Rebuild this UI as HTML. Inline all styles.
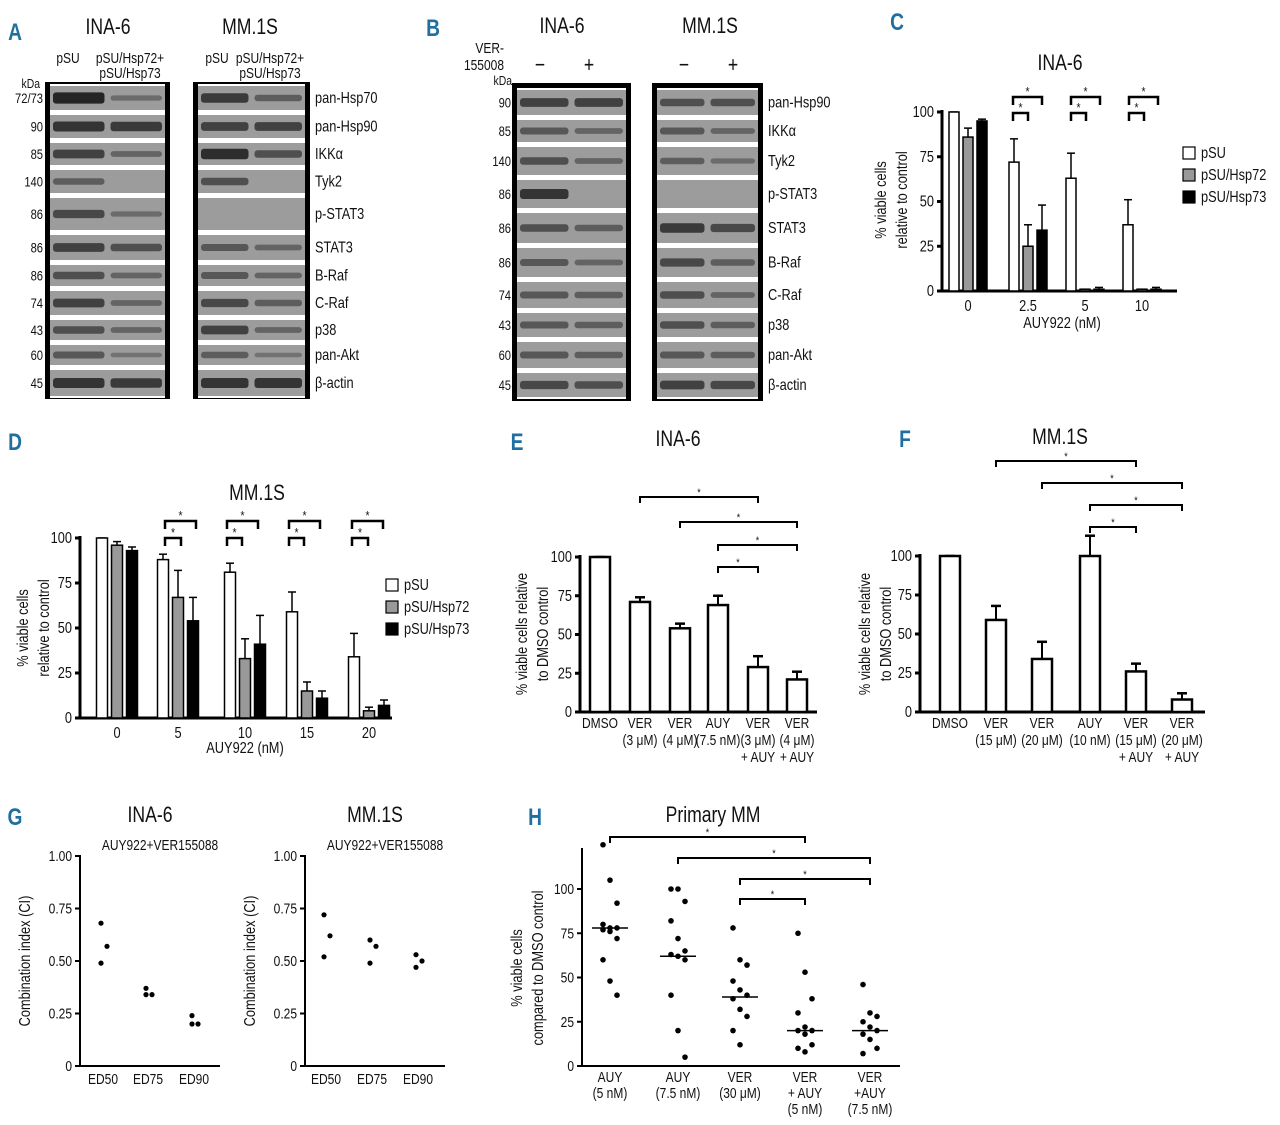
<!DOCTYPE html>
<html><head><meta charset="utf-8"><style>
html,body{margin:0;padding:0;background:#fff;width:1280px;height:1125px;overflow:hidden}
svg{display:block;font-family:"Liberation Sans",sans-serif}
</style></head><body>
<svg id="fig" width="1280" height="1125" viewBox="0 0 1280 1125" xmlns="http://www.w3.org/2000/svg"></svg>
<script>
// ---------- DATA ----------
const cGroups=["0","2.5","5","10"];
const cPSU=[100,72,63,37], cH72=[86,25,1,1], cH73=[95,34,1,1];
const cErrPSU=[100,85,77,51], cErrH72=[91,37,1,1], cErrH73=[96,48,2,2];
const dGroups=["0","5","10","15","20"];
const dPSU=[100,88,81,59,34], dH72=[96,67,33,15,4], dH73=[93,54,41,11,7];
const dErrPSU=[100,91,86,70,47], dErrH72=[98,82,44,20,6], dErrH73=[95,67,57,15,10];
const eLabels=[["DMSO"],["VER","(3 μM)"],["VER","(4 μM)"],["AUY","(7.5 nM)"],["VER","(3 μM)","+ AUY"],["VER","(4 μM)","+ AUY"]];
const eValues=[100,71,54,69,29,21], eErr=[100,74,57,75,36,26];
const fLabels=[["DMSO"],["VER","(15 μM)"],["VER","(20 μM)"],["AUY","(10 nM)"],["VER","(15 μM)","+ AUY"],["VER","(20 μM)","+ AUY"]];
const fValues=[100,59,34,100,26,8], fErr=[100,68,45,113,31,12];
const gCats=["ED50","ED75","ED90"];
const gIna=[[0.68,0.57,0.49],[0.37,0.34,0.34],[0.24,0.20,0.20]];
const gMm=[[0.72,0.62,0.52],[0.60,0.57,0.49],[0.53,0.50,0.47]];
const gTicks=["0","0.25","0.50","0.75","1.00"];
const hLabels=[["AUY","(5 nM)"],["AUY","(7.5 nM)"],["VER","(30 μM)"],["VER","+ AUY","(5 nM)"],["VER","+AUY","(7.5 nM)"]];
const hPts=[[125,105,92,80,78,78,77,76,72,60,48,40],[100,100,93,82,72,65,63,62,60,40,20,5],[78,60,57,48,43,40,38,32,28,20,12],[75,53,38,30,22,20,20,18,12,10,8],[46,30,28,25,22,20,18,15,10,7]];
const hMedian=[78,62,39,20,20];
const pctTicks=[0,25,50,75,100];

// ---------- HELPERS ----------
const S=document.getElementById('fig');
const NS="http://www.w3.org/2000/svg";
function mk(tag,at,name,par){const el=document.createElementNS(NS,tag);for(const k in at)el.setAttribute(k,at[k]);


(par||S).appendChild(el);return el;}
function tx(x,y,s,sz,anc,name,extra,rot){
  const tr=`translate(${x},${y})`+(rot?` rotate(${rot})`:'')+' scale(0.8,1)';
  const t=mk('text',Object.assign({x:0,y:0,transform:tr,'font-size':sz||14,'text-anchor':anc||'middle',fill:'#111'},extra||{}),name);t.textContent=s;return t;}
function ln(x1,y1,x2,y2,w,name){return mk('line',{x1:x1,y1:y1,x2:x2,y2:y2,stroke:'#000','stroke-width':w||2},name);}
function plabel(x,y,s){tx(x,y,s,24,'middle','panel-label-'+s.toLowerCase(),{fill:'#1f6fa0','font-weight':'bold'});}

// ---------- BLOTS ----------
function blot(x,y,w,h,rows,lanes,name){
  mk('rect',{x:x,y:y,width:w,height:h,fill:'#000'},name+'-frame');
  const ix=x+5,iw=w-10;
  mk('rect',{x:ix,y:rows[0][0]-2,width:iw,height:rows[rows.length-1][1]-rows[0][0]+4,fill:'#fff'},name+'-bg');
  rows.forEach((r,i)=>{
    mk('rect',{x:ix,y:r[0],width:iw,height:r[1]-r[0],fill:'#9c9c9c'},name+'-strip-'+i);
    const mid=(r[0]+r[1])/2;
    lanes[i].forEach((v,j)=>{if(v<=0)return;
      const lw=iw/2-6;const lx=ix+3+j*(iw/2);
      mk('rect',{x:lx,y:mid-2-v*3,width:lw,height:4+v*6,rx:3,fill:'#111','fill-opacity':Math.min(1,0.25+v*0.5)},name+'-band-'+i+'-'+j);});
  });
}
// Panel A
plabel(15,40,'A');
tx(108,34,'INA-6',22,'middle','a-title-ina6');tx(250,34,'MM.1S',22,'middle','a-title-mm1s');
tx(68,63,'pSU',15,'middle','a-lane-psu');tx(130,63,'pSU/Hsp72+',15,'middle','a-lane-hsp');tx(130,78,'pSU/Hsp73',15,'middle','a-lane-hsp73');
tx(217,63,'pSU',15,'middle','a-lane-psu2');tx(270,63,'pSU/Hsp72+',15,'middle','a-lane-hsp2');tx(270,78,'pSU/Hsp73',15,'middle','a-lane-hsp73b');
const aRows=[[86,110],[115,138],[143,165],[170,193],[198,230],[235,260],[265,286],[291,315],[320,340],[345,365],[370,396]];
blot(45,82,125,317,aRows,[[1.2,0.2],[1,0.9],[0.8,0.3],[0.4,0],[0.7,0.2],[0.8,0.6],[0.6,0.3],[0.8,0.3],[0.6,0.3],[0.5,0.1],[1,0.9]],'a-blot-ina6');
blot(193,82,117,317,aRows,[[0.9,0.4],[0.8,0.8],[1.1,0.6],[0.6,0],[0,0],[0.5,0.3],[0.5,0.3],[0.7,0.4],[0.8,0.3],[0.4,0.1],[1,1]],'a-blot-mm1s');
tx(40,88,'kDa',13,'end','a-kda');
const aKda=['72/73','90','85','140','86','86','86','74','43','60','45'];
const aAb=['pan-Hsp70','pan-Hsp90','IKKα','Tyk2','p-STAT3','STAT3','B-Raf','C-Raf','p38','pan-Akt','β-actin'];
aRows.forEach((r,i)=>{const m=(r[0]+r[1])/2+5;tx(43,m,aKda[i],14,'end','a-kda-'+i);tx(315,m,aAb[i],16,'start','a-antibody-'+i);});
// Panel B
plabel(433,36,'B');
tx(562,33,'INA-6',22,'middle','b-title-ina6');tx(710,33,'MM.1S',22,'middle','b-title-mm1s');
tx(504,53,'VER-',15,'end','b-ver');tx(504,70,'155008',15,'end','b-ver2');tx(512,85,'kDa',13,'end','b-kda');
tx(540,72,'−',22,'middle','b-minus1');tx(589,72,'+',22,'middle','b-plus1');tx(684,72,'−',22,'middle','b-minus2');tx(733,72,'+',22,'middle','b-plus2');
const bRows=[[90,115],[120,142],[147,175],[180,208],[213,243],[248,277],[282,308],[313,337],[342,368],[373,397]];
blot(512,83,119,318,bRows,[[0.8,0.8],[0.5,0.3],[0.6,0.3],[1,0],[0.6,0.4],[0.5,0.3],[0.5,0.4],[0.5,0.4],[0.5,0.4],[0.7,0.6]],'b-blot-ina6');
blot(652,83,111,318,bRows,[[0.6,0.6],[0.5,0.3],[0.4,0.2],[0,0],[0.9,0.7],[0.7,0.4],[0.6,0.3],[0.6,0.4],[0.5,0.4],[0.8,0.7]],'b-blot-mm1s');
const bKda=['90','85','140','86','86','86','74','43','60','45'];
const bAb=['pan-Hsp90','IKKα','Tyk2','p-STAT3','STAT3','B-Raf','C-Raf','p38','pan-Akt','β-actin'];
bRows.forEach((r,i)=>{const m=(r[0]+r[1])/2+5;tx(511,m,bKda[i],14,'end','b-kda-'+i);tx(768,m,bAb[i],16,'start','b-antibody-'+i);});

// ---------- GROUPED BAR CHARTS ----------
function yAxis(pre,ax,y0,y100,xl,ticks,vmax){
  ln(ax,y100-2,ax,y0+1.5,3,pre+'-y-axis');
  ticks.forEach((t,i)=>{const y=y0-(t/vmax)*(y0-y100);ln(ax-5,y,ax,y,3,pre+'-y-tick-'+i);tx(ax-8,y+5,String(t),16,'end',pre+'-y-label-'+i);});
}
function grouped(pre,ax,axEnd,y0,y100,centers,bw,series,errs,fills,groups){
  const ys=v=>y0-v/100*(y0-y100);
  yAxis(pre,ax,y0,y100,0,pctTicks,100);
  ln(ax,y0,axEnd,y0,3,pre+'-x-axis');
  centers.forEach((c,g)=>{
    tx(c,y0+20,groups[g],16,'middle',pre+'-x-label-'+g);
    series.forEach((s,k)=>{const x=c+(k-1)*(bw+4)-bw/2;
      ln(x+bw/2,ys(errs[k][g]),x+bw/2,ys(s[g]),1.5,pre+'-error-'+k+'-'+g);
      ln(x+bw/2-4,ys(errs[k][g]),x+bw/2+4,ys(errs[k][g]),1.5,pre+'-error-cap-'+k+'-'+g);
      mk('rect',{x:x,y:ys(s[g]),width:bw,height:Math.max(1.5,y0-ys(s[g])),fill:fills[k],stroke:'#000','stroke-width':1.5},pre+'-bar-'+k+'-'+g);});
  });
}
function legend(pre,x,y,gap){[['pSU','#fff'],['pSU/Hsp72','#999'],['pSU/Hsp73','#000']].forEach((l,i)=>{
  mk('rect',{x:x,y:y+i*gap-11,width:12,height:12,fill:l[1],stroke:'#000','stroke-width':1.2},pre+'-legend-swatch-'+i);
  tx(x+18,y+i*gap,l[0],16,'start',pre+'-legend-label-'+i);});}
function bracket(pre,x1,x2,y,i){mk('path',{d:`M${x1} ${y+8}V${y}H${x2}V${y+8}`,fill:'none',stroke:'#000','stroke-width':2.5},pre+'-sig-bracket-'+i);tx((x1+x2)/2,y-1,'*',13,'middle',pre+'-sig-star-'+i);}

// Panel C
plabel(897,30,'C');
tx(1060,70,'INA-6',22,'middle','c-title');
const cCent=[968,1028,1085,1142];
grouped('c',942,1177,291,112,cCent,10,[cPSU,cH72,cH73],[cErrPSU,cErrH72,cErrH73],['#fff','#999','#000'],cGroups);
tx(1062,328,'AUY922 (nM)',16,'middle','c-x-title');
tx(886,200,'% viable cells',16,'middle','c-y-title',{},-90);
tx(907,200,'relative to control',16,'middle','c-y-title2',{},-90);
legend('c',1183,158,22);
[[1013,1042,97],[1013,1028,113],[1071,1100,97],[1071,1086,113],[1129,1158,97],[1129,1144,113]].forEach((b,i)=>bracket('c',b[0],b[1],b[2],i));

// Panel D
plabel(15,450,'D');
tx(257,500,'MM.1S',22,'middle','d-title');
const dCent=[117,178,245,307,369];
grouped('d',80,392,718,538,dCent,11,[dPSU,dH72,dH73],[dErrPSU,dErrH72,dErrH73],['#fff','#999','#000'],dGroups);
tx(245,753,'AUY922 (nM)',16,'middle','d-x-title');
tx(28,628,'% viable cells',16,'middle','d-y-title',{},-90);
tx(49,628,'relative to control',16,'middle','d-y-title2',{},-90);
legend('d',386,590,22);
[[165,196,521],[165,181,538],[227,258,521],[227,242,538],[289,320,521],[289,304,538],[352,383,521],[352,368,538]].forEach((b,i)=>bracket('d',b[0],b[1],b[2],i));

// Panels E / F
function single(pre,ax,axEnd,y0,y100,centers,bw,vals,errs,labels){
  const ys=v=>y0-v/100*(y0-y100);
  yAxis(pre,ax,y0,y100,0,pctTicks,100);
  ln(ax,y0,axEnd,y0,3,pre+'-x-axis');
  centers.forEach((c,g)=>{
    ln(c,ys(errs[g]),c,ys(vals[g]),2,pre+'-error-'+g);
    ln(c-5,ys(errs[g]),c+5,ys(errs[g]),2.5,pre+'-error-cap-'+g);
    mk('rect',{x:c-bw/2,y:ys(vals[g]),width:bw,height:y0-ys(vals[g]),fill:'#fff',stroke:'#000','stroke-width':2.5},pre+'-bar-'+g);
    labels[g].forEach((s,k)=>tx(c,y0+16+k*17,s,15,'middle',pre+'-x-label-'+g+'-'+k));
  });
}
function sig(pre,x1,x2,y,i){mk('path',{d:`M${x1} ${y+6}V${y}H${x2}V${y+6}`,fill:'none',stroke:'#000','stroke-width':2},pre+'-sig-bracket-'+i);tx((x1+x2)/2,y-1,'*',11,'middle',pre+'-sig-star-'+i);}
plabel(517,450,'E');
tx(678,446,'INA-6',22,'middle','e-title');
single('e',580,817,712,557,[600,640,680,718,758,797],20,eValues,eErr,eLabels);
tx(527,634,'% viable cells relative',16,'middle','e-y-title',{},-90);
tx(548,634,'to DMSO control',16,'middle','e-y-title2',{},-90);
[[640,758,497],[680,797,522],[718,797,545],[718,758,567]].forEach((b,i)=>sig('e',b[0],b[1],b[2],i));

plabel(905,447,'F');
tx(1060,444,'MM.1S',22,'middle','f-title');
single('f',920,1205,712,556,[950,996,1042,1090,1136,1182],20,fValues,fErr,fLabels);
tx(870,634,'% viable cells relative',16,'middle','f-y-title',{},-90);
tx(891,634,'to DMSO control',16,'middle','f-y-title2',{},-90);
[[996,1136,461],[1042,1182,483],[1090,1182,505],[1090,1136,527]].forEach((b,i)=>sig('f',b[0],b[1],b[2],i));

// Panel G
plabel(15,825,'G');
function gPlot(pre,ax,xs,data,title){
  const y0=1066,y1=856,ys=v=>y0-v*(y0-y1);
  tx(ax+70,822,title,22,'middle',pre+'-title');
  tx(ax+80,850,'AUY922+VER155088',15,'middle',pre+'-subtitle');
  ln(ax,y1-1,ax,y0,2,pre+'-y-axis');ln(ax,y0,ax+140,y0,2,pre+'-x-axis');
  gTicks.forEach((t,i)=>{const y=ys(parseFloat(t));ln(ax-5,y,ax,y,2,pre+'-y-tick-'+i);tx(ax-8,y+5,t,15,'end',pre+'-y-label-'+i);});
  xs.forEach((x,g)=>{tx(x,1084,gCats[g],15,'middle',pre+'-x-label-'+g);
    data[g].forEach((v,k)=>mk('circle',{cx:x+(k===1?6:0)-2,cy:ys(v),r:2.6,fill:'#000'},pre+'-point-'+g+'-'+k));});
  tx(ax-50,961,'Combination index (CI)',16,'middle',pre+'-y-title',{},-90);
}
gPlot('g-ina6',80,[103,148,194],gIna,'INA-6');
gPlot('g-mm1s',305,[326,372,418],gMm,'MM.1S');

// Panel H
plabel(535,825,'H');
tx(713,822,'Primary MM',22,'middle','h-title');
(function(){
  const ax=582,y0=1066,y100=889,ys=v=>y0-v/100*(y0-y100);
  ln(ax,848,ax,y0,2,'h-y-axis');ln(ax,y0,900,y0,2,'h-x-axis');
  pctTicks.forEach((t,i)=>{const y=ys(t);ln(ax-5,y,ax,y,2,'h-y-tick-'+i);tx(ax-8,y+5,String(t),15,'end','h-y-label-'+i);});
  const xs=[610,678,740,805,870];
  xs.forEach((x,g)=>{
    hLabels[g].forEach((s,k)=>tx(x,1082+k*16,s,15,'middle','h-x-label-'+g+'-'+k));
    hPts[g].forEach((v,k)=>mk('circle',{cx:x+((k%3)-1)*7,cy:ys(v),r:2.8,fill:'#000'},'h-point-'+g+'-'+k));
    ln(x-18,ys(hMedian[g]),x+18,ys(hMedian[g]),1.5,'h-median-'+g);
  });
  tx(522,968,'% viable cells',16,'middle','h-y-title',{},-90);
  tx(543,968,'compared to DMSO control',16,'middle','h-y-title2',{},-90);
  [[610,805,837],[678,870,858],[740,870,879],[740,805,899]].forEach((b,i)=>sig('h',b[0],b[1],b[2],i));
})();
</script>
</body></html>
